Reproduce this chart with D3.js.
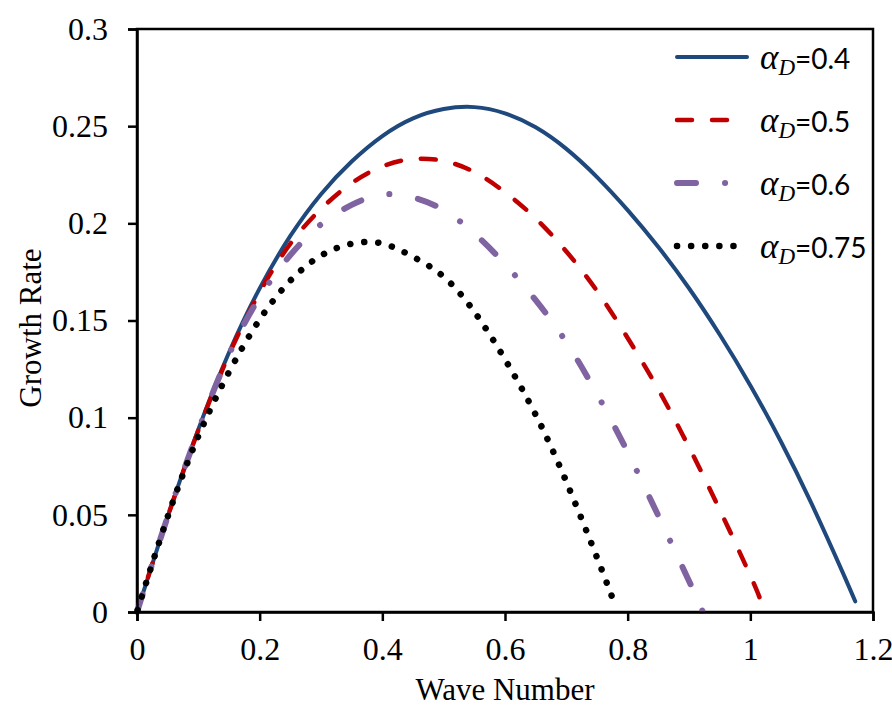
<!DOCTYPE html>
<html>
<head>
<meta charset="utf-8">
<script src="https://cdn.jsdelivr.net/npm/d3@7"></script>
<style>
  body { margin: 0; background: #fff; }
  svg { display: block; }
</style>
</head>
<body>
<div id="chart"></div>
<script>
// values
var alphaD = ["0.4", "0.5", "0.6", "0.75"];

var k04 = [0, 0.05, 0.1, 0.15, 0.2, 0.25, 0.3, 0.35, 0.4, 0.45, 0.5, 0.55, 0.6, 0.65, 0.7, 0.75, 0.8, 0.85, 0.9, 0.95, 1.0, 1.05, 1.1, 1.15, 1.171];
var g04 = [0, 0.049, 0.094, 0.1335, 0.1665, 0.1935, 0.215, 0.2318, 0.2449, 0.254, 0.2588, 0.2598, 0.2566, 0.2494, 0.2383, 0.2238, 0.2068, 0.1878, 0.1666, 0.1428, 0.1166, 0.0876, 0.0556, 0.0208, 0.0055];

var k05 = [0, 0.05, 0.1, 0.15, 0.2, 0.25, 0.3, 0.35, 0.4, 0.45, 0.5, 0.55, 0.6, 0.65, 0.7, 0.75, 0.8, 0.85, 0.9, 0.95, 1.0, 1.015];
var g05 = [0, 0.049, 0.0935, 0.1325, 0.1645, 0.1895, 0.2074, 0.2207, 0.2293, 0.2331, 0.2321, 0.2264, 0.216, 0.2025, 0.1855, 0.1652, 0.141, 0.1145, 0.0848, 0.0527, 0.0187, 0.0075];

var k06 = [0, 0.05, 0.1, 0.15, 0.2, 0.25, 0.3, 0.35, 0.4, 0.45, 0.5, 0.55, 0.6, 0.65, 0.7, 0.75, 0.8, 0.85, 0.9, 0.922];
var g06 = [0, 0.049, 0.0935, 0.1325, 0.162, 0.1837, 0.1995, 0.2095, 0.2148, 0.2133, 0.2068, 0.1948, 0.179, 0.1605, 0.1388, 0.1122, 0.0822, 0.0495, 0.016, 0.0005];

var k075 = [0, 0.05, 0.1, 0.15, 0.2, 0.25, 0.3, 0.35, 0.4, 0.45, 0.5, 0.55, 0.6, 0.65, 0.7, 0.75, 0.774];
var g075 = [0, 0.049, 0.0905, 0.1235, 0.1505, 0.1705, 0.1834, 0.1895, 0.1896, 0.1828, 0.1725, 0.1545, 0.13, 0.1015, 0.067, 0.028, 0.0082];

var xTicks = [0, 0.2, 0.4, 0.6, 0.8, 1, 1.2];
var xTickLabels = ["0", "0.2", "0.4", "0.6", "0.8", "1", "1.2"];
var yTicks = [0, 0.05, 0.1, 0.15, 0.2, 0.25, 0.3];
var yTickLabels = ["0", "0.05", "0.1", "0.15", "0.2", "0.25", "0.3"];

function init() {
  var w = 892, h = 709;
  var left = 137, right = 873, top = 29, bottom = 612;
  var serif = "'Liberation Serif', 'Times New Roman', serif";

  var svg = d3.select("#chart").append("svg")
    .attr("width", w)
    .attr("height", h);

  svg.append("rect").attr("width", w).attr("height", h).attr("fill", "#fff");

  var xScale = d3.scaleLinear().domain([0, 1.2]).range([left, right]);
  var yScale = d3.scaleLinear().domain([0, 0.3]).range([bottom, top]);

  // endAt = where in the dash pattern the curve should finish
  var series = [
    { k: k04, g: g04, color: "#1f497d", width: 4, dash: null },
    { k: k05, g: g05, color: "#c00000", width: 4.5, dash: "15,20", endAt: 15.5 },
    { k: k06, g: g06, color: "#8064a2", width: 6, dash: "19,29,0.1,29", endAt: 48.6 },
    { k: k075, g: g075, color: "#000", width: 6.5, dash: "0.1,14", endAt: 0.6 }
  ];

  var line = d3.line()
    .x(function(d) { return xScale(d[0]); })
    .y(function(d) { return yScale(d[1]); })
    .curve(d3.curveNatural);

  // frame
  svg.append("rect")
    .attr("x", left).attr("y", top)
    .attr("width", right - left).attr("height", bottom - top)
    .attr("fill", "none").attr("stroke", "#000").attr("stroke-width", 2.5);

  // curves
  series.forEach(function(s) {
    var pts = s.k.map(function(k, i) { return [k, s.g[i]]; });
    var p = svg.append("path")
      .datum(pts)
      .attr("d", line)
      .attr("fill", "none")
      .attr("stroke", s.color)
      .attr("stroke-width", s.width)
      .attr("stroke-linecap", "round")
      .attr("stroke-linejoin", "round")
      .attr("stroke-dasharray", s.dash);
    if (s.dash) {
      var period = d3.sum(s.dash.split(","), Number);
      var len = p.node().getTotalLength();
      var off = ((s.endAt - len) % period + period) % period;
      p.attr("stroke-dashoffset", off);
    }
  });

  // axes
  var xAxis = d3.axisBottom(xScale)
    .tickValues(xTicks)
    .tickSize(9)
    .tickPadding(16)
    .tickFormat(function(d, i) { return xTickLabels[i]; });
  var yAxis = d3.axisLeft(yScale)
    .tickValues(yTicks)
    .tickSize(9)
    .tickPadding(20)
    .tickFormat(function(d, i) { return yTickLabels[i]; });

  var gx = svg.append("g").attr("transform", "translate(0," + bottom + ")").call(xAxis);
  var gy = svg.append("g").attr("transform", "translate(" + left + ",0)").call(yAxis);

  [gx, gy].forEach(function(g) {
    g.select(".domain").attr("stroke-width", 2.5);
    g.selectAll(".tick line").attr("stroke-width", 2.5);
    g.selectAll(".tick text")
      .attr("font-family", serif)
      .attr("font-size", 32)
      .attr("fill", "#000");
  });

  // axis titles
  svg.append("text")
    .attr("x", (left + right) / 2)
    .attr("y", 700)
    .attr("text-anchor", "middle")
    .attr("font-family", serif)
    .attr("font-size", 31)
    .text("Wave Number");

  svg.append("text")
    .attr("transform", "translate(41,328) rotate(-90)")
    .attr("text-anchor", "middle")
    .attr("font-family", serif)
    .attr("font-size", 31)
    .text("Growth Rate");

  // legend
  var legY = [57, 120, 183, 246];
  series.forEach(function(s, i) {
    svg.append("line")
      .attr("x1", 677).attr("x2", 747)
      .attr("y1", legY[i]).attr("y2", legY[i])
      .attr("stroke", s.color)
      .attr("stroke-width", s.width)
      .attr("stroke-linecap", "round")
      .attr("stroke-dasharray", s.dash);

    var t = svg.append("text")
      .attr("x", 760)
      .attr("y", legY[i] + 12)
      .attr("fill", "#000");
    t.append("tspan")
      .attr("font-family", "'Liberation Serif', serif")
      .attr("font-style", "italic")
      .attr("font-size", 35)
      .text("\u03b1");
    t.append("tspan")
      .attr("font-family", "'Liberation Serif', serif")
      .attr("font-style", "italic")
      .attr("font-size", 23)
      .attr("dy", 6)
      .text("D");
    t.append("tspan")
      .attr("font-family", "Lato, 'Open Sans', sans-serif")
      .attr("font-size", 28)
      .attr("dy", -6)
      .text("=" + alphaD[i]);
  });
}

window.onload = init;
</script>
</body>
</html>
